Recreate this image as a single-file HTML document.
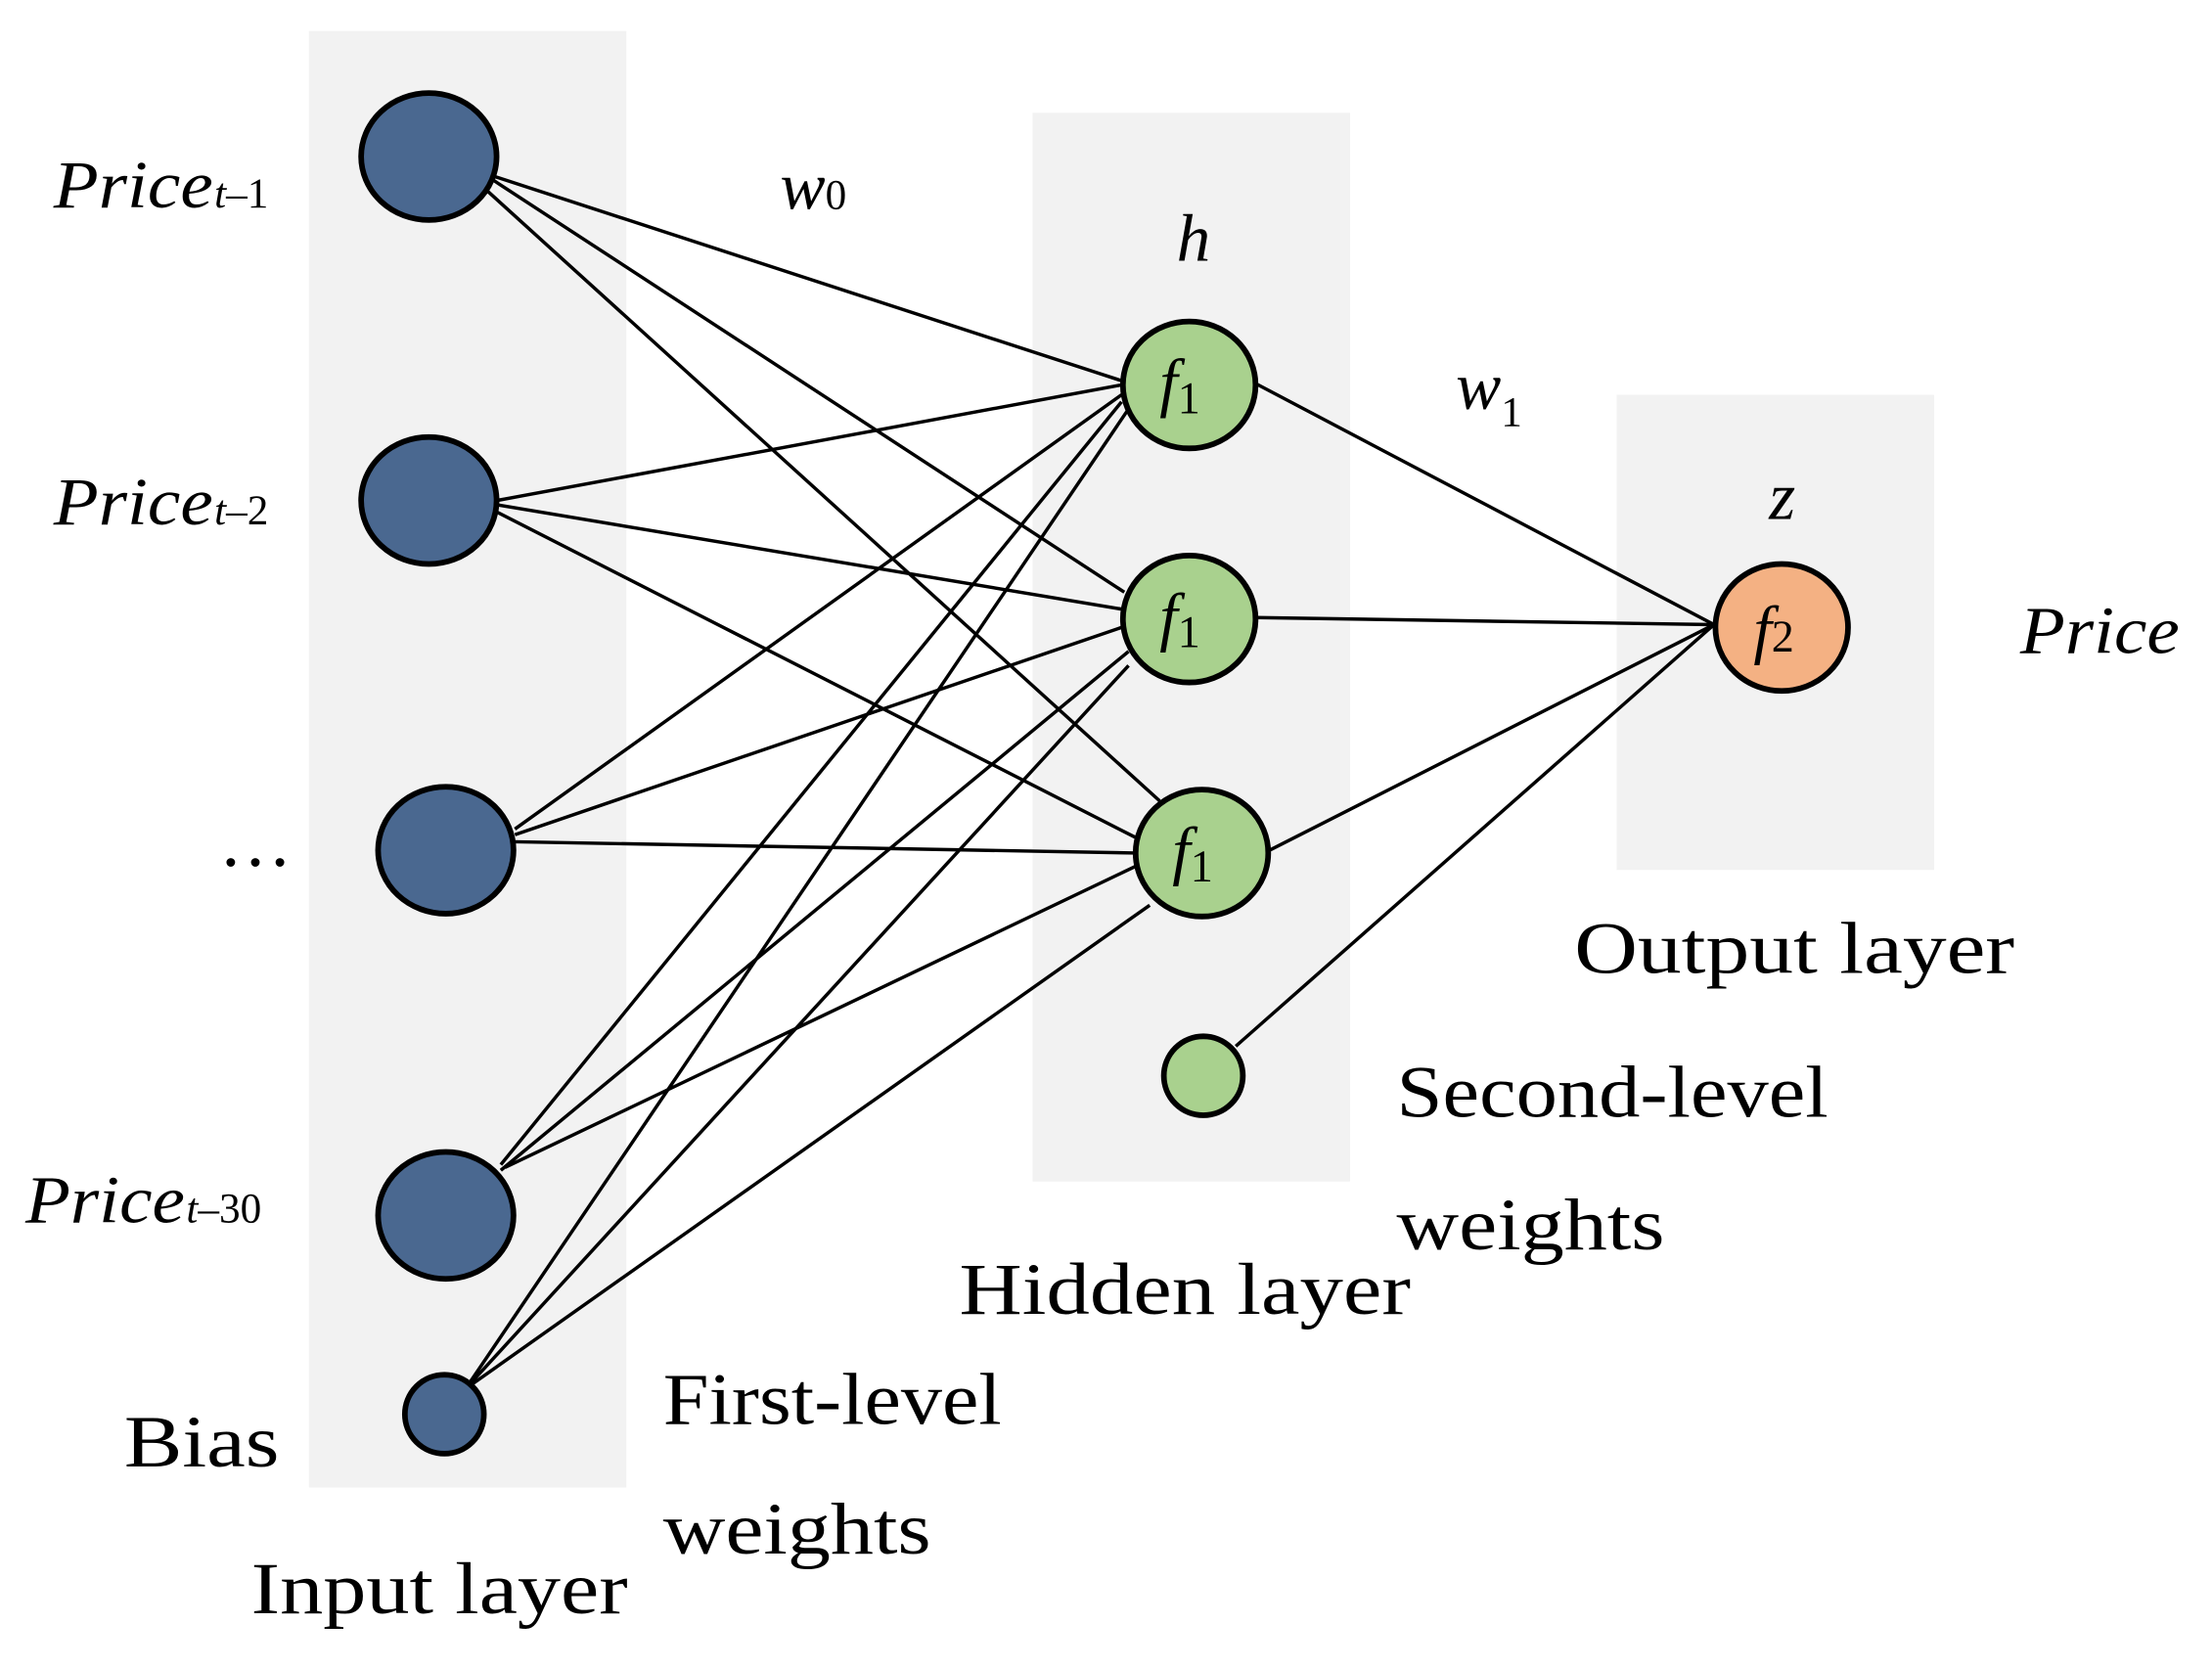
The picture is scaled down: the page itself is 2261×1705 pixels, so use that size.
<!DOCTYPE html>
<html><head><style>html,body{margin:0;padding:0;background:#fff}svg{display:block}</style></head>
<body>
<svg width="2261" height="1705" viewBox="0 0 1568 1183" preserveAspectRatio="none" xmlns="http://www.w3.org/2000/svg" font-family="'Liberation Serif', serif">
<rect x="219" y="22" width="225" height="1033" fill="#f2f2f2"/>
<rect x="732" y="80" width="225" height="758" fill="#f2f2f2"/>
<rect x="1146" y="280" width="225" height="337" fill="#f2f2f2"/>
<g stroke="#000" stroke-width="2.4" fill="none">
<line x1="350" y1="125" x2="795" y2="270"/>
<line x1="350" y1="128" x2="797" y2="420"/>
<line x1="345" y1="135" x2="822" y2="568"/>
<line x1="352" y1="355" x2="795" y2="273"/>
<line x1="352" y1="358" x2="795" y2="432"/>
<line x1="350" y1="362" x2="805" y2="594"/>
<line x1="365" y1="588" x2="795" y2="280"/>
<line x1="365" y1="592" x2="795" y2="445"/>
<line x1="365" y1="597" x2="805" y2="605"/>
<line x1="355" y1="826" x2="795" y2="285"/>
<line x1="355" y1="830" x2="800" y2="462"/>
<line x1="358" y1="828" x2="810" y2="612"/>
<line x1="330" y1="985" x2="800" y2="290"/>
<line x1="330" y1="985" x2="800" y2="472"/>
<line x1="330" y1="985" x2="815" y2="642"/>
<line x1="890" y1="272" x2="1215" y2="443"/>
<line x1="890" y1="438" x2="1215" y2="443"/>
<line x1="900" y1="603" x2="1215" y2="443"/>
<line x1="876" y1="742" x2="1215" y2="443"/>
</g>
<g stroke="#000" stroke-width="4" fill="#4a6890">
<ellipse cx="304" cy="111" rx="48" ry="45"/>
<ellipse cx="304" cy="355" rx="48" ry="45"/>
<ellipse cx="316" cy="603" rx="48" ry="45"/>
<ellipse cx="316" cy="862" rx="48" ry="45"/>
<ellipse cx="315" cy="1003" rx="28" ry="28"/>
</g>
<g stroke="#000" stroke-width="4" fill="#a9d18e">
<ellipse cx="843" cy="273" rx="47" ry="45"/>
<ellipse cx="843" cy="439" rx="47" ry="45"/>
<ellipse cx="852" cy="605" rx="47" ry="45"/>
<ellipse cx="853" cy="763" rx="28" ry="28"/>
</g>
<ellipse cx="1263" cy="445" rx="47" ry="45" stroke="#000" stroke-width="4" fill="#f4b183"/>
<g font-style="italic" font-size="48">
<text x="38" y="147"><tspan textLength="113" lengthAdjust="spacingAndGlyphs">Price</tspan><tspan font-size="30" x="152">t</tspan><tspan font-size="30" font-style="normal">–1</tspan></text>
<text x="38" y="372"><tspan textLength="113" lengthAdjust="spacingAndGlyphs">Price</tspan><tspan font-size="30" x="152">t</tspan><tspan font-size="30" font-style="normal">–2</tspan></text>
<text x="18" y="867"><tspan textLength="113" lengthAdjust="spacingAndGlyphs">Price</tspan><tspan font-size="30" x="132">t</tspan><tspan font-size="30" font-style="normal">–30</tspan></text>
<text x="1432" y="463" textLength="113" lengthAdjust="spacingAndGlyphs">Price</text>
<text x="553" y="148">w<tspan font-size="30" font-style="normal">0</tspan></text>
<text x="1032" y="290">w<tspan font-size="30" font-style="normal" dy="12">1</tspan></text>
<text x="834" y="185">h</text>
<text x="1254" y="368">z</text>
<text x="822" y="287" font-size="46">f<tspan font-size="32" font-style="normal" dy="6">1</tspan></text>
<text x="822" y="453" font-size="46">f<tspan font-size="32" font-style="normal" dy="6">1</tspan></text>
<text x="831" y="619" font-size="46">f<tspan font-size="32" font-style="normal" dy="6">1</tspan></text>
<text x="1243" y="462" font-size="46">f<tspan font-size="32" font-style="normal" dy="0">2</tspan></text>
</g>
<g font-size="52" lengthAdjust="spacingAndGlyphs">
<text x="155" y="614">…</text>
<text x="88" y="1040" textLength="110" lengthAdjust="spacingAndGlyphs">Bias</text>
<text x="178" y="1144" textLength="267" lengthAdjust="spacingAndGlyphs">Input layer</text>
<text x="470" y="1010" textLength="240" lengthAdjust="spacingAndGlyphs">First-level</text>
<text x="470" y="1102" textLength="190" lengthAdjust="spacingAndGlyphs">weights</text>
<text x="680" y="932" textLength="320" lengthAdjust="spacingAndGlyphs">Hidden layer</text>
<text x="990" y="792" textLength="306" lengthAdjust="spacingAndGlyphs">Second-level</text>
<text x="990" y="886" textLength="190" lengthAdjust="spacingAndGlyphs">weights</text>
<text x="1116" y="690" textLength="312" lengthAdjust="spacingAndGlyphs">Output layer</text>
</g>
</svg>
</body></html>
